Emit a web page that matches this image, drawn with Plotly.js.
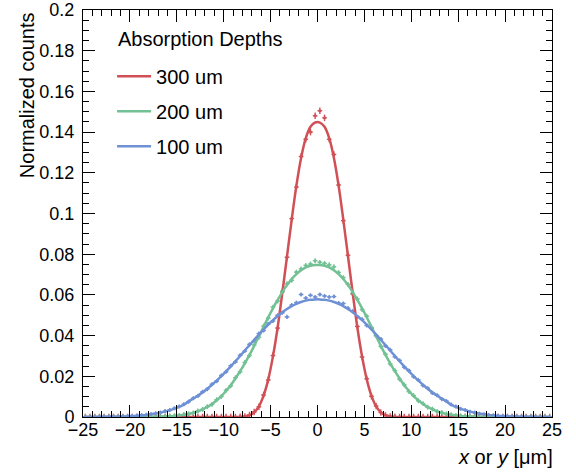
<!DOCTYPE html>
<html>
<head>
<meta charset="utf-8">
<script src="https://cdn.plot.ly/plotly-3.0.1.min.js"></script>
<style>html,body{margin:0;padding:0;background:#fff;}#chart{width:576px;height:473px;}</style>
</head>
<body>
<div id="chart"></div>
<script>
// bin centres (bin width 0.5 um)
const bins = [-24.75,-24.25,-23.75,-23.25,-22.75,-22.25,-21.75,-21.25,-20.75,-20.25,
  -19.75,-19.25,-18.75,-18.25,-17.75,-17.25,-16.75,-16.25,-15.75,-15.25,
  -14.75,-14.25,-13.75,-13.25,-12.75,-12.25,-11.75,-11.25,-10.75,-10.25,
  -9.75,-9.25,-8.75,-8.25,-7.75,-7.25,-6.75,-6.25,-5.75,-5.25,
  -4.75,-4.25,-3.75,-3.25,-2.75,-2.25,-1.75,-1.25,-0.75,-0.25,
  0.25,0.75,1.25,1.75,2.25,2.75,3.25,3.75,4.25,4.75,
  5.25,5.75,6.25,6.75,7.25,7.75,8.25,8.75,9.25,9.75,
  10.25,10.75,11.25,11.75,12.25,12.75,13.25,13.75,14.25,14.75,
  15.25,15.75,16.25,16.75,17.25,17.75,18.25,18.75,19.25,19.75,
  20.25,20.75,21.25,21.75,22.25,22.75,23.25,23.75,24.25,24.75];

const seriesNames = ["300 um", "200 um", "100 um"];
const legendTitle = "Absorption Depths";

// measured histogram points (normalized counts)
const data300 = [0,0,0,0,0,0,0,0,0,0,
  0,0,0,0,0,0,0,0,0,0,
  0,0,0,0,0,0,0,0,0,0,
  0,0,0,0.0001,0.0003,0.0010,0.0025,0.0050,0.0108,0.0182,
  0.0302,0.0437,0.0615,0.0785,0.0975,0.1130,0.1280,0.1365,0.1400,0.1480,
  0.1505,0.1470,0.1365,0.1290,0.1140,0.0965,0.0795,0.0605,0.0445,0.0295,
  0.0188,0.0102,0.0054,0.0022,0.0008,0.0003,0.0001,0,0,0,
  0,0,0,0,0,0,0,0,0,0,
  0,0,0,0,0,0,0,0,0,0,
  0,0,0,0,0,0,0,0,0,0];

const data200 = [0,0,0,0,0,0,0,0,0,0,
  0,0,0.0001,0.0001,0.0001,0.0002,0.0002,0.0003,0.0004,0.0006,
  0.0008,0.0012,0.0016,0.0020,0.0030,0.0037,0.0051,0.0062,0.0085,0.0101,
  0.0131,0.0153,0.0193,0.0222,0.0268,0.0302,0.0354,0.0392,0.0447,0.0486,
  0.0540,0.0570,0.0618,0.0655,0.0672,0.0712,0.0728,0.0745,0.0752,0.0768,
  0.0760,0.0755,0.0748,0.0738,0.0710,0.0685,0.0652,0.0608,0.0580,0.0528,
  0.0495,0.0440,0.0400,0.0347,0.0308,0.0261,0.0228,0.0186,0.0158,0.0125,
  0.0105,0.0080,0.0066,0.0048,0.0039,0.0027,0.0022,0.0015,0.0011,0.0007,
  0.0006,0.0004,0.0003,0.0002,0.0001,0.0001,0.0001,0,0,0,
  0,0,0,0,0,0,0,0,0,0];

const data100 = [0.00003,0.00004,0.00005,0.00007,0.0001,0.00012,0.00018,0.00022,0.0003,0.0004,
  0.0005,0.0007,0.0009,0.0011,0.0014,0.0018,0.0022,0.0029,0.0034,0.0043,
  0.0052,0.0063,0.0075,0.0092,0.0103,0.0124,0.0137,0.0161,0.0176,0.0204,
  0.0222,0.0252,0.0271,0.0303,0.0324,0.0357,0.0375,0.0410,0.0425,0.0458,
  0.0472,0.0500,0.0512,0.0492,0.0550,0.0562,0.0602,0.0585,0.0598,0.0590,
  0.0602,0.0595,0.0590,0.0592,0.0560,0.0558,0.0535,0.0520,0.0492,0.0480,
  0.0450,0.0436,0.0400,0.0383,0.0349,0.0330,0.0296,0.0278,0.0245,0.0228,
  0.0198,0.0182,0.0155,0.0141,0.0118,0.0107,0.0088,0.0078,0.0061,0.0052,
  0.0040,0.0034,0.0026,0.0022,0.0016,0.0013,0.0010,0.0008,0.0006,0.0005,
  0.0003,0.0003,0.0002,0.00015,0.0001,0.00008,0.00006,0.00004,0.00003,0.00002];

// fitted curves read at the same bin centres
const fit300 = [0,0,0,0,0,0,0,0,0,0,
  0,0,0,0,0,0,0,0,0,0,
  0,0,0,0,0,0,0,0,0,0,
  0,0,0,0.0001,0.0003,0.0009,0.0023,0.0052,0.0105,0.0185,
  0.0298,0.0440,0.0610,0.0790,0.0970,0.1137,0.1273,0.1370,0.1426,0.1447,
  0.1447,0.1426,0.1370,0.1273,0.1137,0.0970,0.0790,0.0610,0.0440,0.0298,
  0.0185,0.0105,0.0052,0.0023,0.0009,0.0003,0.0001,0,0,0,
  0,0,0,0,0,0,0,0,0,0,
  0,0,0,0,0,0,0,0,0,0,
  0,0,0,0,0,0,0,0,0,0];

const fit200 = [0,0,0,0,0,0,0,0,0,0,
  0,0.00001,0.00002,0.00004,0.00007,0.00011,0.00017,0.00026,0.00038,0.00055,
  0.0008,0.0011,0.0015,0.0021,0.0028,0.0038,0.0049,0.0064,0.0082,0.0103,
  0.0128,0.0156,0.0189,0.0225,0.0264,0.0305,0.0350,0.0396,0.0443,0.0490,
  0.0534,0.0575,0.0614,0.0648,0.0678,0.0702,0.0721,0.0735,0.0743,0.0747,
  0.0747,0.0743,0.0735,0.0721,0.0702,0.0678,0.0648,0.0614,0.0575,0.0534,
  0.0490,0.0443,0.0396,0.0350,0.0305,0.0264,0.0225,0.0189,0.0156,0.0128,
  0.0103,0.0082,0.0064,0.0049,0.0038,0.0028,0.0021,0.0015,0.0011,0.0008,
  0.00055,0.00038,0.00026,0.00017,0.00011,0.00007,0.00004,0.00002,0.00001,0,
  0,0,0,0,0,0,0,0,0,0];

const fit100 = [0.00002,0.00003,0.00004,0.00006,0.00008,0.0001,0.00015,0.0002,0.00026,0.00035,
  0.00045,0.0006,0.0008,0.0010,0.0013,0.0017,0.0021,0.0027,0.0033,0.0041,
  0.0050,0.0060,0.0077,0.0090,0.0105,0.0121,0.0139,0.0158,0.0179,0.0201,
  0.0224,0.0249,0.0274,0.0300,0.0327,0.0353,0.0379,0.0405,0.0430,0.0454,
  0.0476,0.0496,0.0515,0.0531,0.0545,0.0556,0.0565,0.0572,0.0576,0.0578,
  0.0578,0.0576,0.0572,0.0565,0.0556,0.0545,0.0531,0.0515,0.0496,0.0476,
  0.0454,0.0430,0.0405,0.0379,0.0353,0.0327,0.0300,0.0274,0.0249,0.0224,
  0.0201,0.0179,0.0158,0.0139,0.0121,0.0105,0.0090,0.0077,0.0060,0.0050,
  0.0041,0.0033,0.0027,0.0021,0.0017,0.0013,0.0010,0.0008,0.0006,0.00045,
  0.00035,0.00026,0.0002,0.00015,0.0001,0.00008,0.00006,0.00004,0.00003,0.00002];

const colors = ["rgb(208,80,86)", "rgb(114,193,148)", "rgb(110,144,213)"];
const dataSets = [data300, data200, data100];
const fitSets = [fit300, fit200, fit100];
const errY = [0.0016, 0.0012, 0.0010];

const FONT = "Liberation Sans, Arial, Helvetica, sans-serif";
const traces = [];
for (let i = 0; i < 3; i++) {
  traces.push({
    x: bins, y: dataSets[i], type: "scatter", mode: "markers",
    marker: {color: colors[i], size: 3, symbol: "circle"},
    error_x: {type: "constant", value: 0.25, width: 0, thickness: 1.4, color: colors[i]},
    error_y: {type: "constant", value: errY[i], width: 0, thickness: 1.4, color: colors[i]},
    showlegend: false, hoverinfo: "skip"
  });
}
for (let i = 0; i < 3; i++) {
  traces.push({
    x: bins, y: fitSets[i], type: "scatter", mode: "lines",
    line: {color: colors[i], width: 2.5, shape: "spline", smoothing: 1},
    name: seriesNames[i], legendgroup: "g" + i, showlegend: true
  });
}

const axisCommon = {
  showgrid: false, zeroline: false, showline: true, linecolor: "#000", linewidth: 1,
  mirror: "ticks", ticks: "inside", tickcolor: "#000", tickwidth: 1,
  tickfont: {family: FONT, size: 18, color: "#000"}
};

const layout = {
  width: 576, height: 473,
  margin: {l: 83, r: 24, t: 10, b: 56},
  paper_bgcolor: "#fff", plot_bgcolor: "#fff",
  font: {family: FONT, color: "#000"},
  xaxis: Object.assign({}, axisCommon, {
    range: [-25, 25], dtick: 5, tick0: 0, ticklen: 12, ticklabelstandoff: -4,
    minor: {dtick: 1, ticks: "inside", ticklen: 6, tickcolor: "#000", tickwidth: 1, showgrid: false}
  }),
  yaxis: Object.assign({}, axisCommon, {
    range: [0, 0.2], dtick: 0.02, tick0: 0, ticklen: 12, ticklabelstandoff: 4,
    minor: {dtick: 0.005, ticks: "inside", ticklen: 6, tickcolor: "#000", tickwidth: 1, showgrid: false}
  }),
  legend: {
    x: 0.062, y: 0.885, xanchor: "left", yanchor: "top",
    bgcolor: "rgba(0,0,0,0)", borderwidth: 0,
    traceorder: "grouped", tracegroupgap: 6, itemwidth: 34,
    font: {family: FONT, size: 20, color: "#000"}
  },
  annotations: [
    {text: legendTitle, xref: "paper", yref: "paper", x: 0.0704, y: 0.9287,
     xanchor: "left", yanchor: "middle", showarrow: false, font: {family: FONT, size: 20, color: "#000"}},
    {text: "<i>x</i> or <i>y</i> [μm]", xref: "paper", yref: "paper", x: 1.006, y: -0.098,
     xanchor: "right", yanchor: "middle", showarrow: false, font: {family: FONT, size: 20, color: "#000"}},
    {text: "Normalized counts", xref: "paper", yref: "paper", x: -0.119, y: 1.0,
     xanchor: "center", yanchor: "top", textangle: -90, showarrow: false,
     font: {family: FONT, size: 20, color: "#000"}}
  ]
};

Plotly.newPlot("chart", traces, layout, {displayModeBar: false, staticPlot: true});
</script>
</body>
</html>
